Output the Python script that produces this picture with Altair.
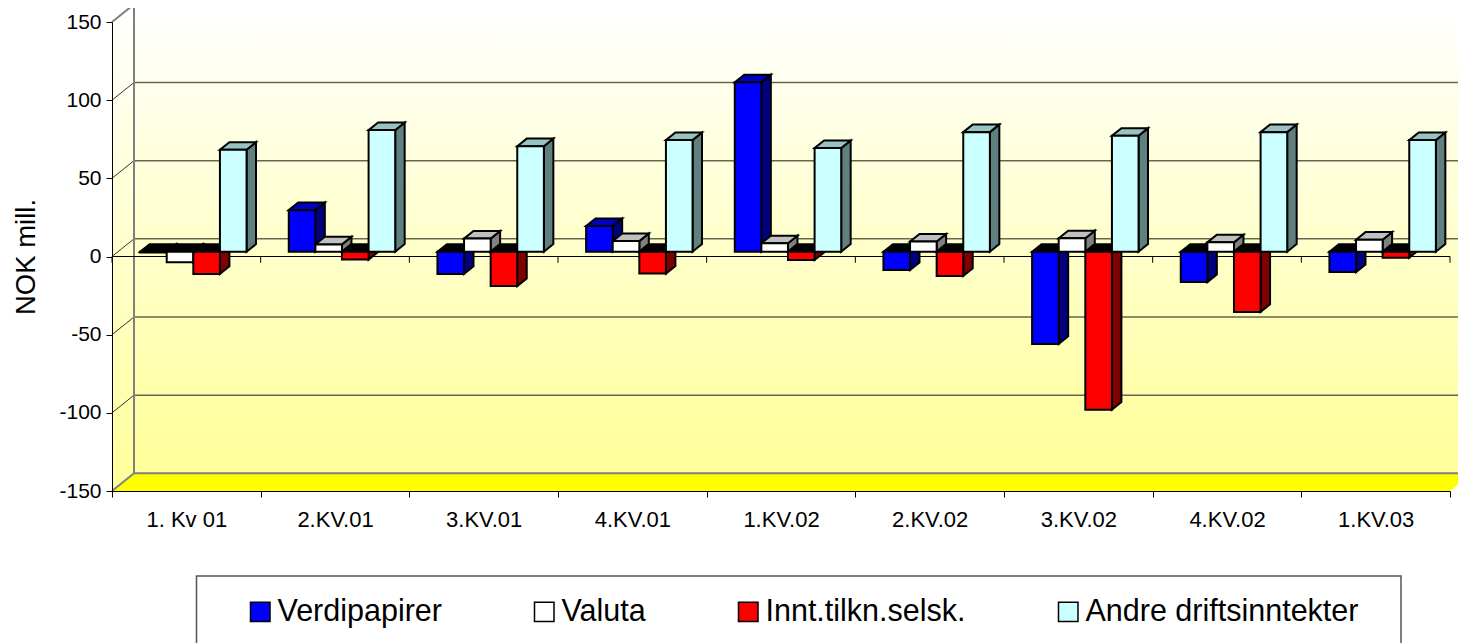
import altair as alt
import pandas as pd

# ---- chart values ----
categories = ["1. Kv 01", "2.KV.01", "3.KV.01", "4.KV.01", "1.KV.02", "2.KV.02", "3.KV.02", "4.KV.02", "1.KV.03"]
series = ["Verdipapirer", "Valuta", "Innt.tilkn.selsk.", "Andre driftsinntekter"]
verdipapirer = [-0.5, 26.6, -14.2, 16.4, 108.4, -11.7, -59, -19.4, -13]
valuta = [-6.8, 4.7, 8.4, 6.8, 5.4, 6.5, 8.6, 6, 7.7]
innt_tilkn = [-14.2, -5, -22, -14, -5.3, -15.5, -101, -38.5, -3.8]
andre = [65.2, 77.8, 67.5, 71.4, 66.3, 76.5, 74.2, 76.5, 71.4]
y_ticks = [-150, -100, -50, 0, 50, 100, 150]

front_colors = ["#0000FF", "#FFFFFF", "#FF0000", "#CCFFFF"]
side_colors = ["#000080", "#808080", "#800000", "#608080"]
top_colors = ["#0000C0", "#C0C0C0", "#800000", "#99C2C2"]
FONT = "Liberation Sans"

# ---- 3-D projection, in axis units ----
DX = 0.148      # wall depth, category units
DY = 11.3       # wall depth, NOK units
NEAR, FAR = 0.27, 0.70  # bars' front and back within the depth
BAR_W = 0.179
START = 0.189

values = [verdipapirer, valuta, innt_tilkn, andre]
front_rows, side_rows, top_rows = [], [], []
for s, name in enumerate(series):
    for c, v in enumerate(values[s]):
        x0 = c + START + s * BAR_W
        x1 = x0 + BAR_W
        d = (FAR - NEAR) * DX
        hi, lo = max(v, 0), min(v, 0)
        yn, yf = NEAR * DY, FAR * DY
        bid = f"{s}-{c}"
        front_rows.append(dict(series=name, x=x0, x2=x1, y=hi + yn, y2=lo + yn))
        side_rows += [
            dict(id=bid, fill=side_colors[s], x=x1, y=hi + yn, y2=lo + yn),
            dict(id=bid, fill=side_colors[s], x=x1 + d, y=hi + yf, y2=lo + yf),
        ]
        tc = "#000000" if v < 0 else top_colors[s]
        top_rows += [
            dict(id=bid, fill=tc, x=x0, y=hi + yn, y2=hi + yn),
            dict(id=bid, fill=tc, x=x0 + d, y=hi + yf, y2=hi + yn),
            dict(id=bid, fill=tc, x=x1, y=hi + yf, y2=hi + yn),
            dict(id=bid, fill=tc, x=x1 + d, y=hi + yf, y2=hi + yf),
        ]
front_df = pd.DataFrame(front_rows)
side_df = pd.DataFrame(side_rows)
top_df = pd.DataFrame(top_rows)

n = len(categories)
xs = alt.Scale(domain=[0, n], nice=False, zero=False)
ys = alt.Scale(domain=[-150, 150], nice=False, zero=False)
X = lambda f="x": alt.X(f"{f}:Q", scale=xs, axis=None)
Y = lambda f="y": alt.Y(f"{f}:Q", scale=ys, axis=None)

gradient = alt.Gradient(gradient="linear", x1=0, y1=0, x2=0, y2=1,
                        stops=[alt.GradientStop(color="#FFFFFF", offset=0),
                               alt.GradientStop(color="#FFFF99", offset=1)])

left_wall = alt.Chart(pd.DataFrame(dict(x=[0, DX], y=[150, 150 + DY], y2=[-150, -150 + DY]))).mark_area(
    color=gradient, orient="vertical").encode(x=X(), y=Y(), y2="y2:Q")
back_wall = alt.Chart(pd.DataFrame([dict(x=DX, x2=n + DX, y=150 + DY, y2=-150 + DY)])).mark_rect(
    color=gradient).encode(x=X(), x2="x2:Q", y=Y(), y2="y2:Q")
floor = alt.Chart(pd.DataFrame(dict(
    x=[0, DX, n, n + DX],
    y=[-150, -150 + DY, -150 + DY, -150 + DY],
    y2=[-150, -150, -150, -150 + DY]))).mark_area(color="#FFFF00", orient="vertical").encode(
    x=X(), y=Y(), y2="y2:Q")

inner = [t for t in y_ticks if abs(t) != 150]
grid_df = pd.DataFrame(dict(t=inner, x=DX, x2=n + DX, y=[t + DY for t in inner]))
grid = alt.Chart(grid_df).mark_rule(color="#66664D", strokeWidth=1.5).encode(x=X(), x2="x2:Q", y=Y())
diag_df = pd.DataFrame(dict(x=0, x2=DX, y=inner, y2=[t + DY for t in inner]))
diag = alt.Chart(diag_df).mark_rule(color="#333333", strokeWidth=1).encode(x=X(), x2="x2:Q", y=Y(), y2="y2:Q")

edge_df = pd.DataFrame([
    dict(x=DX, x2=DX, y=-150 + DY, y2=150 + DY),
    dict(x=DX, x2=n + DX, y=150 + DY, y2=150 + DY),
    dict(x=DX, x2=n + DX, y=-150 + DY, y2=-150 + DY),
    dict(x=0, x2=DX, y=150, y2=150 + DY),
    dict(x=0, x2=DX, y=-150, y2=-150 + DY),
])
edges = alt.Chart(edge_df).mark_rule(color="#808080", strokeWidth=2).encode(x=X(), x2="x2:Q", y=Y(), y2="y2:Q")

zero_line = alt.Chart(pd.DataFrame([dict(x=0, x2=n, y=0)])).mark_rule(color="#000000", strokeWidth=1).encode(
    x=X(), x2="x2:Q", y=Y())
zero_ticks = alt.Chart(pd.DataFrame(dict(x=list(range(n + 1)), y=0, y2=-4))).mark_rule(
    color="#000000", strokeWidth=1).encode(x=X(), y=Y(), y2="y2:Q")

sides = alt.Chart(side_df).mark_area(orient="vertical", stroke="#000000", strokeWidth=2, strokeJoin="miter", opacity=1).encode(
    x=X(), y=Y(), y2="y2:Q", detail="id:N", fill=alt.Fill("fill:N", scale=None))
tops = alt.Chart(top_df).mark_area(orient="vertical", stroke="#000000", strokeWidth=2, strokeJoin="miter", opacity=1).encode(
    x=X(), y=Y(), y2="y2:Q", detail="id:N", fill=alt.Fill("fill:N", scale=None))

legend_box = alt.Chart(pd.DataFrame([dict(a=1)])).mark_rect(
    fill="#FFFFFF", stroke="#555555", strokeWidth=1.5).encode(
    x=alt.value(84.5), x2=alt.value(1289), y=alt.value(554), y2=alt.value(700))

fronts = alt.Chart(front_df).mark_rect(stroke="#000000", strokeWidth=2, opacity=1).encode(
    x=X(), x2="x2:Q", y=Y(), y2="y2:Q",
    fill=alt.Fill("series:N", scale=alt.Scale(domain=series, range=front_colors),
                  legend=alt.Legend(
                      title=None, orient="none", legendX=133, legendY=574.5, direction="horizontal",
                      columns=4, columnPadding=87, symbolType="square", symbolSize=380,
                      symbolStrokeColor="#000000", symbolStrokeWidth=1.5, symbolOpacity=1,
                      labelFont=FONT, labelFontSize=30.5, labelColor="#000000", labelLimit=500,
                      labelOffset=2, padding=0)))

# axes: value axis, tick axis and category-label axis share the scales
y_axis = alt.Chart(pd.DataFrame(dict(y=[0]))).mark_point(opacity=0).encode(
    y=alt.Y("y:Q", scale=ys, title="NOK mill.", axis=alt.Axis(
        values=y_ticks, grid=False, zindex=1, tickSize=6, tickColor="#000000", domainColor="#000000",
        labelFont=FONT, labelFontSize=21, labelColor="#000000", labelPadding=5, labelExpr="datum.value + ''",
        titleFont=FONT, titleFontSize=27.5, titleFontWeight="normal", titleColor="#000000", titlePadding=18)))

tick_axis = alt.Chart(pd.DataFrame(dict(x=[0]))).mark_point(opacity=0).encode(
    x=alt.X("x:Q", scale=xs, title=None, axis=alt.Axis(
        orient="bottom", values=list(range(n + 1)), grid=False, labels=False, zindex=1, tickSize=6,
        tickColor="#000000", domainColor="#000000")))

label_expr = "[" + ",".join(repr(c) for c in categories) + "][floor(datum.value)]"
label_axis = alt.Chart(pd.DataFrame(dict(x=[0]))).mark_point(opacity=0).encode(
    x=alt.X("x:Q", scale=xs, title=None, axis=alt.Axis(
        orient="bottom", values=[i + 0.5 for i in range(n)], grid=False, ticks=False, domain=False, zindex=1,
        labelExpr=label_expr, labelFont=FONT, labelFontSize=22, labelColor="#000000",
        labelPadding=18, labelOverlap=False, labelFlush=False)))

chart = alt.layer(
    left_wall, back_wall, floor, grid, diag, edges, zero_line, zero_ticks,
    sides, tops, legend_box, fronts, y_axis, tick_axis, label_axis,
).resolve_axis(x="independent", y="independent").resolve_scale(fill="independent").properties(
    width=1338, height=469,
    background="#FFFFFF",
    padding={"left": 104, "top": 14, "right": 8, "bottom": 152},
    autosize=alt.AutoSizeParams(type="none"),
).configure_view(stroke=None)

chart.save("out.html", embed_options={"renderer": "svg", "actions": False})
